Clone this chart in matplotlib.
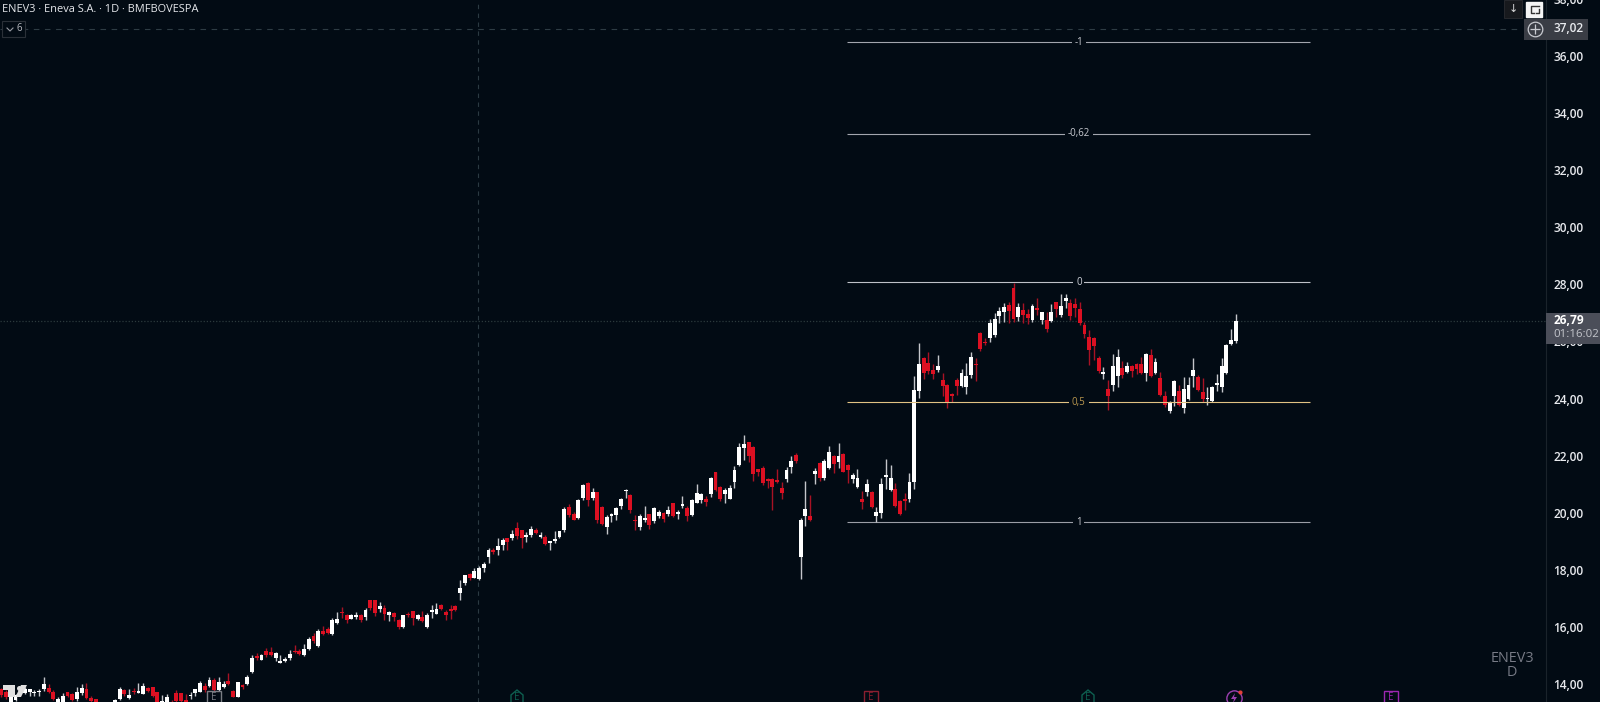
import numpy as np
import matplotlib
matplotlib.use('Agg')
import matplotlib.pyplot as plt
from matplotlib.patches import Rectangle, Polygon, FancyBboxPatch
from matplotlib.transforms import ScaledTranslation

plt.rcParams['font.family'] = ['Open Sans', 'DejaVu Sans']

opens = [13.90,13.78,13.45,13.50,13.80,13.75,13.79,13.74,13.78,13.88,
    13.93,13.80,13.40,13.35,13.79,13.73,13.54,13.77,13.90,13.57,
    13.53,13.30,13.05,13.20,13.30,13.56,13.86,13.58,13.84,13.77,
    13.73,13.92,13.95,13.79,13.35,13.42,13.45,13.74,13.74,13.51,
    13.65,13.77,13.80,14.00,14.00,14.21,13.86,13.98,14.18,13.82,
    13.63,14.02,14.07,14.48,15.04,14.92,15.23,15.19,14.97,14.82,
    14.89,14.97,15.24,15.23,15.09,15.30,15.76,15.39,15.94,15.98,
    15.82,16.21,16.60,16.49,16.35,16.43,16.49,16.42,17.00,17.00,
    16.71,16.74,16.50,16.56,16.31,16.05,16.52,16.62,16.36,16.43,
    16.07,16.59,16.53,16.84,16.59,16.70,16.81,17.25,17.62,17.94,
    17.80,17.76,18.12,18.53,18.76,18.76,18.94,19.18,19.20,19.54,
    19.46,19.23,19.29,19.45,19.22,19.23,19.02,19.09,19.21,19.45,
    20.28,20.04,19.89,20.60,21.12,20.59,20.78,20.28,19.58,19.95,
    19.99,20.30,20.82,20.70,19.83,19.57,19.82,20.01,19.77,19.95,
    20.05,20.01,20.40,20.04,20.30,20.24,19.98,20.42,20.51,20.56,
    20.71,21.48,20.96,20.72,20.56,21.15,21.75,22.33,22.53,22.38,
    21.59,21.65,21.24,21.24,21.21,20.93,21.24,21.68,22.08,18.53,
    19.95,19.96,21.44,21.80,21.27,21.62,22.06,21.85,22.13,21.74,
    21.26,20.96,20.54,20.81,20.81,19.97,20.07,21.33,20.87,20.90,
    20.48,20.55,20.54,21.16,24.35,25.50,25.33,25.06,25.07,24.72,
    24.53,24.23,24.72,24.51,24.46,24.88,25.26,26.35,26.06,26.18,
    26.28,26.97,27.09,27.36,27.93,26.94,27.17,27.02,26.82,27.23,
    26.82,26.82,26.78,27.44,26.99,27.48,27.40,27.37,27.20,26.64,
    26.21,26.19,25.48,24.93,24.39,24.54,24.86,25.14,25.00,25.20,
    25.28,25.28,24.95,25.59,24.95,24.78,24.17,23.62,24.16,24.34,
    23.74,24.04,24.87,24.83,24.31,24.05,23.98,24.56,24.46,24.97,
    25.98,26.10]

highs = [13.92,13.85,13.70,13.72,13.82,13.95,13.90,13.86,13.88,14.33,
    14.06,13.86,13.60,13.76,13.80,13.76,13.95,14.07,14.09,13.65,
    13.55,13.35,13.30,13.38,13.56,13.98,13.91,13.88,13.93,14.09,
    14.09,13.98,13.98,13.80,13.67,13.72,13.50,13.86,13.77,13.72,
    13.79,13.91,14.19,14.09,14.33,14.27,14.33,14.19,14.47,13.86,
    14.15,14.07,14.39,15.09,15.14,15.12,15.32,15.38,15.20,15.09,
    15.00,15.26,15.42,15.28,15.46,15.73,15.84,15.98,16.10,16.05,
    16.37,16.60,16.76,16.52,16.52,16.58,16.52,16.72,17.01,17.01,
    16.94,16.84,16.62,16.59,16.36,16.50,16.60,16.64,16.52,16.64,
    16.55,16.84,16.90,16.87,16.66,16.83,16.84,17.72,17.90,17.97,
    18.12,18.20,18.35,18.82,18.82,19.17,19.17,19.20,19.48,19.73,
    19.48,19.40,19.61,19.52,19.40,19.29,19.05,19.42,19.44,20.26,
    20.36,20.09,20.56,21.07,21.15,20.92,20.80,20.30,19.99,20.07,
    20.28,20.60,20.89,20.72,19.99,20.04,20.32,20.03,20.27,20.16,
    20.08,20.30,20.42,20.18,20.65,20.30,20.56,21.06,20.75,20.65,
    21.33,21.50,21.00,20.92,21.04,21.71,22.52,22.80,22.55,22.40,
    21.61,21.70,21.27,21.27,21.59,21.15,21.68,22.05,22.17,19.87,
    21.18,20.68,21.62,21.83,21.94,22.40,22.10,22.50,22.15,21.78,
    21.45,21.59,20.84,21.25,20.84,20.28,21.27,21.95,21.74,21.10,
    20.52,20.77,21.45,24.86,26.00,25.54,25.71,25.27,25.59,24.98,
    24.57,24.25,24.80,25.09,25.30,25.69,25.49,26.41,26.18,26.84,
    27.05,27.29,27.43,27.46,28.10,27.40,27.40,27.19,27.38,27.59,
    27.11,27.11,27.38,27.46,27.73,27.73,27.55,27.58,27.46,26.76,
    26.47,26.24,25.57,25.18,24.72,25.62,25.80,25.38,25.36,25.24,
    25.30,25.51,25.65,25.79,25.48,25.01,24.34,23.97,24.71,24.54,
    24.83,24.81,25.49,24.89,24.78,24.48,24.51,24.93,25.48,25.98,
    26.49,27.03]

lows = [13.62,13.55,13.42,13.48,13.65,13.72,13.65,13.65,13.66,13.84,
    13.77,13.50,13.30,13.30,13.63,13.46,13.49,13.68,13.56,13.44,
    13.30,13.00,13.00,13.10,13.20,13.51,13.65,13.56,13.72,13.75,
    13.71,13.80,13.63,13.39,13.30,13.35,13.20,13.44,13.42,13.30,
    13.53,13.65,13.78,13.78,13.95,13.84,13.84,13.92,14.02,13.60,
    13.60,13.88,14.02,14.44,14.91,14.91,15.03,15.05,14.89,14.79,
    14.85,14.91,15.14,15.07,15.06,15.26,15.52,15.37,15.77,15.82,
    15.80,16.18,16.37,16.22,16.33,16.34,16.23,16.31,16.66,16.46,
    16.60,16.31,16.28,16.29,16.00,16.03,16.43,16.15,16.31,16.24,
    16.04,16.37,16.51,16.66,16.31,16.34,16.62,17.00,17.55,17.73,
    17.77,17.73,18.00,18.32,18.64,18.59,18.78,18.78,19.11,19.15,
    18.82,19.05,19.23,19.32,19.17,18.95,18.76,19.02,19.20,19.40,
    19.93,19.80,19.86,20.51,20.31,20.51,19.72,19.63,19.31,19.75,
    19.83,20.21,20.58,20.05,19.46,19.48,19.75,19.51,19.70,19.87,
    19.75,19.97,19.93,19.84,20.24,19.79,19.96,20.40,20.40,20.31,
    20.62,20.84,20.49,20.40,20.54,20.94,21.71,21.93,21.85,21.19,
    21.35,21.04,20.92,20.16,21.10,20.56,21.15,21.45,21.82,17.76,
    19.60,19.78,21.09,21.18,21.23,21.59,21.47,21.62,21.50,21.10,
    21.10,20.92,20.19,20.67,20.24,19.76,19.87,20.89,20.84,20.28,
    19.98,20.17,20.45,20.90,24.09,24.74,24.93,24.74,24.99,24.16,
    23.75,23.96,24.19,24.46,24.23,24.78,24.70,25.72,25.94,26.06,
    26.24,26.70,26.76,26.73,26.76,26.80,26.70,26.68,26.76,26.99,
    26.68,26.39,26.76,26.94,26.91,27.23,26.82,26.94,26.64,26.18,
    25.24,25.42,24.95,24.74,23.67,24.34,24.48,24.78,24.95,24.83,
    24.93,24.93,24.68,24.83,24.93,24.16,23.78,23.57,23.81,23.81,
    23.57,24.02,24.48,24.34,23.96,23.84,23.96,24.34,24.31,24.93,
    25.96,26.00]

closes = [13.68,13.60,13.62,13.70,13.70,13.90,13.88,13.78,13.84,14.07,
    13.79,13.53,13.53,13.66,13.65,13.51,13.79,13.92,13.59,13.46,
    13.39,13.10,13.20,13.30,13.51,13.91,13.71,13.70,13.79,13.81,
    14.00,13.84,13.65,13.44,13.49,13.61,13.30,13.47,13.46,13.35,
    13.68,13.88,14.09,13.86,14.20,13.86,14.14,14.08,14.07,13.63,
    14.13,13.98,14.32,14.98,14.97,15.09,15.09,15.09,15.14,14.89,
    14.95,15.11,15.18,15.11,15.31,15.66,15.58,15.91,15.82,15.87,
    16.31,16.35,16.55,16.31,16.50,16.48,16.31,16.67,16.72,16.55,
    16.80,16.52,16.59,16.41,16.05,16.47,16.49,16.37,16.50,16.28,
    16.50,16.66,16.70,16.70,16.48,16.64,16.66,17.42,17.88,17.79,
    18.04,18.12,18.29,18.78,18.69,18.90,19.13,19.04,19.34,19.25,
    19.20,19.29,19.50,19.36,19.29,18.97,19.05,19.11,19.42,20.21,
    19.99,19.83,20.53,21.04,20.51,20.79,19.83,19.69,19.93,20.01,
    20.23,20.56,20.84,20.16,19.77,19.95,19.90,19.64,20.24,20.09,
    19.86,20.16,19.97,20.09,20.36,19.96,20.53,20.75,20.72,20.43,
    21.28,20.86,20.54,20.85,20.94,21.55,22.38,22.47,22.05,21.42,
    21.50,21.10,21.18,20.98,21.13,20.75,21.56,21.89,21.89,19.81,
    20.20,19.81,21.53,21.30,21.89,22.20,21.77,22.05,21.51,21.57,
    21.40,21.27,20.46,21.06,20.26,20.11,21.08,21.37,21.27,20.32,
    20.01,20.49,21.15,24.37,25.28,24.98,25.05,24.93,25.21,24.52,
    23.90,24.16,24.51,24.98,24.87,25.51,25.23,25.79,26.00,26.70,
    26.84,27.13,27.27,27.12,26.84,27.29,26.99,26.88,27.31,27.18,
    27.09,26.52,27.09,27.19,27.31,27.59,26.96,27.23,26.70,26.33,
    25.77,25.90,25.03,25.00,24.17,25.21,25.51,24.88,25.21,25.03,
    25.11,24.96,25.63,24.86,25.34,24.18,23.85,23.95,24.68,23.84,
    24.40,24.54,25.07,24.37,24.04,24.09,24.48,24.60,25.21,25.94,
    26.12,26.79]

price_ticks = [14, 16, 18, 20, 22, 24, 26, 28, 30, 32, 34, 36, 38]
fib_levels = ['-1', '-0,62', '0', '0,5', '1']
fib_prices = [36.55, 33.35, 28.14, 23.94, 19.73]
fib_colors = ['#a3a6ae', '#a3a6ae', '#bfc2c9', '#e2c384', '#9b9ea6']
fib_text = ['#c8cad0', '#c8cad0', '#d1d4dc', '#b8964e', '#c8cad0']
crosshair_price = 37.02
crosshair_bar = 100.8
last_price = 26.79

BG = '#020b14'
W, H = 1600, 702

def fx(x):
    return x / W

def fy(y):
    return 1 - y / H

fig = plt.figure(figsize=(16, 7.02), dpi=100, facecolor=BG)
ax = fig.add_axes([0, 0, 1546 / W, 1], facecolor=BG)
ax.set_xlim(-0.281, 326.57)
ax.set_ylim(13.44, 38.03)

o, h, l, c = map(np.array, (opens, highs, lows, closes))
idx = np.arange(len(o))
up = c >= o
ax.vlines(idx[up], l[up], h[up], color='#c4c6cb', lw=1, zorder=3)
ax.vlines(idx[~up], l[~up], h[~up], color='#a81224', lw=1, zorder=3)
body = np.maximum(np.abs(c - o), 0.05)
ax.bar(idx[up], body[up], bottom=np.minimum(o, c)[up], width=0.82, color='#ffffff', lw=0, zorder=4)
ax.bar(idx[~up], body[~up], bottom=np.minimum(o, c)[~up], width=0.82, color='#dc1022', lw=0, zorder=4)

# fib levels, the label sits on the line and hides it
for name, p, col, tc in zip(fib_levels, fib_prices, fib_colors, fib_text):
    ax.hlines(p, 178.7, 276.7, color=col, lw=0.8, zorder=2 if name != '0,5' else 5)
    ax.text(227.8, p, name, color=tc, fontsize=7, ha='center', va='center', zorder=6,
            bbox=dict(fc=BG, ec='none', pad=2))

# crosshair and last price
ax.axvline(crosshair_bar, color='#2b3a42', lw=0.8, ls=(0, (4, 4)), zorder=1)
ax.plot([-0.281, 321.6], [crosshair_price] * 2, color='#2e3c44', lw=0.8, ls=(0, (5, 5)), zorder=1)
ax.axhline(last_price, color='#2c3a3c', lw=0.9, ls=(0, (1, 1.5)), zorder=1)

ax.yaxis.tick_right()
ax.set_yticks(price_ticks)
ax.set_yticklabels(['%d,00' % t for t in price_ticks], fontsize=8.6, color='#e8eaee', fontweight='semibold')
ax.tick_params(axis='y', length=0, pad=5.5)
ax.set_xticks([])
for s in ['top', 'bottom', 'left']:
    ax.spines[s].set_visible(False)
ax.spines['right'].set_color('#1a232b')
ax.spines['right'].set_linewidth(0.8)
up_shift = ScaledTranslation(0, 1.4 / 72, fig.dpi_scale_trans)
for t in ax.get_yticklabels():
    t.set_transform(t.get_transform() + up_shift)
    t.set_zorder(1)

# header
fig.text(fx(2), fy(10), 'ENEV3 · Eneva S.A. · 1D · BMFBOVESPA', color='#e6e8ec', fontsize=7.9, va='center', ha='left')
fig.add_artist(Rectangle((fx(2), fy(37)), 23 / W, 16 / H, transform=fig.transFigure, fc=BG, ec='#2a3038', lw=0.8))
fig.add_artist(plt.Line2D([fx(7), fx(10), fx(13)], [fy(28), fy(31), fy(28)], color='#9a9da5', lw=0.8))
fig.text(fx(19), fy(28.5), '6', color='#b8bac0', fontsize=7, va='center', ha='center')

# price labels on the axis
fig.add_artist(Rectangle((fx(1524), fy(40)), 64 / W, 21.5 / H, transform=fig.transFigure, fc='#3a3d45', ec='none', zorder=5))
fig.text(fx(1554), fy(28.5), '37,02', color='#e8eaee', fontsize=8.6, va='center', ha='left', fontweight='semibold', zorder=6)
fig.add_artist(plt.Line2D([fx(1535)], [fy(29)], marker='o', ms=10.5, mfc='none', mec='#c8cad0', mew=0.9, zorder=6))
fig.add_artist(plt.Line2D([fx(1535)], [fy(29)], marker='+', ms=7, mec='#c8cad0', mew=0.9, zorder=6))
fig.add_artist(Rectangle((fx(1546), fy(344)), 54 / W, 31 / H, transform=fig.transFigure, fc='#4b4e59', ec='none', zorder=5))
fig.text(fx(1554), fy(320.5), '26,79', color='#ffffff', fontsize=8.6, va='center', ha='left', fontweight='bold', zorder=6)
fig.text(fx(1553), fy(335), '01:16:02', color='#c4c6cc', fontsize=8.2, va='center', ha='left', zorder=6)

# top right buttons
fig.add_artist(Rectangle((fx(1504), fy(18)), 18 / W, 18 / H, transform=fig.transFigure, fc='#17191d', ec='#2a2c30', lw=0.6, zorder=5))
fig.text(fx(1513.5), fy(9), '↓', color='#d8d8d8', fontsize=8, va='center', ha='center', zorder=6)
fig.add_artist(FancyBboxPatch((fx(1526), fy(17)), 16 / W, 15.5 / H, transform=fig.transFigure, boxstyle='square,pad=0',
                              fc='#f4f4f4', ec='#f4f4f4', lw=1, zorder=5))
fig.add_artist(plt.Line2D([fx(1539), fx(1531), fx(1531), fx(1534)], [fy(6), fy(6), fy(13), fy(13)], color='#333333', lw=1, zorder=6))
fig.add_artist(plt.Line2D([fx(1536), fx(1539), fx(1539)], [fy(13), fy(13), fy(9)], color='#333333', lw=1, zorder=6))

# symbol watermark
fig.text(fx(1512), fy(658), 'ENEV3', color='#787b86', fontsize=10.4, va='center', ha='center')
fig.text(fx(1512), fy(673), 'D', color='#787b86', fontsize=10.4, va='center', ha='center')

# event icons along the bottom
for ex, col, shape in [(214, '#7a7d84', 'sq'), (517, '#0e5f50', 'pent'), (871, '#8a1f30', 'sq'),
                       (1088, '#0e5f50', 'pent'), (1391, '#9c27b0', 'sq')]:
    if shape == 'sq':
        pts = [(ex - 7, 691), (ex + 7, 691), (ex + 7, 708), (ex - 7, 708)]
    else:
        pts = [(ex - 6, 695), (ex, 690), (ex + 6, 695), (ex + 6, 708), (ex - 6, 708)]
    fig.add_artist(Polygon([(fx(a), fy(b)) for a, b in pts], transform=fig.transFigure, fc=BG, ec=col, lw=1, zorder=7))
    fig.text(fx(ex), fy(697.5), 'E', color=col, fontsize=7, va='center', ha='center', zorder=8)
fig.add_artist(plt.Line2D([fx(1234)], [fy(698)], marker='o', ms=11, mfc=BG, mec='#9c3fb0', mew=1, zorder=7))
fig.add_artist(Polygon([(fx(a), fy(b)) for a, b in [(1235, 693), (1231, 699), (1234, 699), (1233, 703), (1237, 697), (1234, 697)]],
                       transform=fig.transFigure, fc='#9c3fb0', ec='none', zorder=8))
fig.add_artist(plt.Line2D([fx(1240)], [fy(692)], marker='o', ms=3, mfc='#e0403a', mec='none', zorder=8))

# tradingview logo in the corner
logo = '#e0e0e0'
fig.add_artist(Polygon([(fx(a), fy(b)) for a, b in [(3, 685), (15, 685), (15, 697), (8, 697), (8, 690), (3, 690)]],
                       transform=fig.transFigure, fc=logo, ec='none', zorder=7))
fig.add_artist(plt.Line2D([fx(18.5)], [fy(687.5)], marker='o', ms=3.6, mfc=logo, mec='none', zorder=7))
fig.add_artist(Polygon([(fx(a), fy(b)) for a, b in [(21, 685), (27, 685), (21, 697), (15.5, 697)]],
                       transform=fig.transFigure, fc=logo, ec='none', zorder=7))

fig.savefig('out.png', dpi=100, facecolor=BG)
